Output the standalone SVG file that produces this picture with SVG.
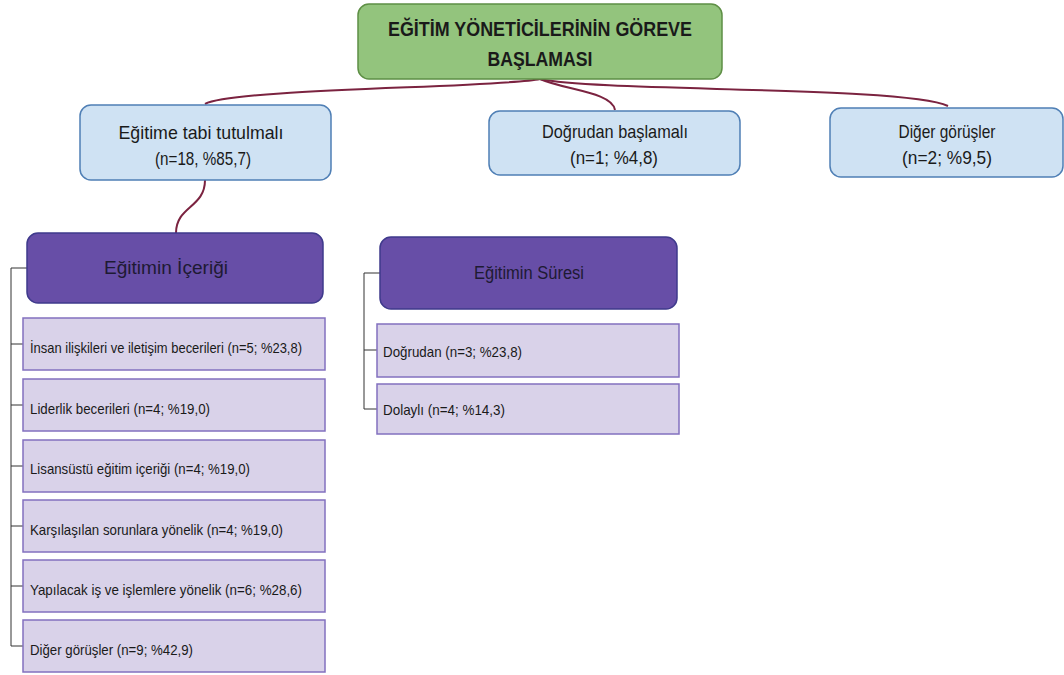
<svg xmlns="http://www.w3.org/2000/svg" width="1064" height="675" viewBox="0 0 1064 675">
<style>
text{font-family:"Liberation Sans",Arial,sans-serif;fill:#1a1a1a}
.root{fill:#93c47d;stroke:#5e8f45;stroke-width:1.5}
.blue{fill:#cfe2f3;stroke:#4f7fb5;stroke-width:1.5}
.hdr{fill:#674ea7;stroke:#3f3a8c;stroke-width:1.5}
.item{fill:#d9d2e9;stroke:#8270bf;stroke-width:1.5}
.rt{font-size:21px;font-weight:bold;text-anchor:middle}
.bt{font-size:18.5px;text-anchor:middle}
.ht{font-size:18px;text-anchor:middle;fill:#1e1a33}
.it{font-size:15px}
.con{fill:none;stroke:#7b2340;stroke-width:2}
.br{fill:none;stroke:#333;stroke-width:1}
</style>
<g id="connectors">
<path class="con" d="M540,79 C500,88 235,88 205,104"/>
<path class="con" d="M540,79 C565,90 612,92 615,110"/>
<path class="con" d="M540,79 C600,92 905,86 948,106"/>
<path class="con" d="M205,180 C205,208 176,206 176,233"/>
<path class="br" d="M27,268 H11 V646 H23 M11,344 H23 M11,405 H23 M11,466 H23 M11,526 H23 M11,586 H23"/>
<path class="br" d="M380,273 H364 V409 H377 M364,350 H377"/>
</g>
<g id="root">
<rect class="root" x="358" y="4" width="364" height="75" rx="11"/>
<text class="rt" x="540" y="36" textLength="304" lengthAdjust="spacingAndGlyphs">EĞİTİM YÖNETİCİLERİNİN GÖREVE</text>
<text class="rt" x="540" y="66" textLength="105" lengthAdjust="spacingAndGlyphs">BAŞLAMASI</text>
</g>
<g id="n1">
<rect class="blue" x="80" y="105" width="251" height="75" rx="11"/>
<text class="bt" x="201" y="139" textLength="165" lengthAdjust="spacingAndGlyphs">Eğitime tabi tutulmalı</text>
<text class="bt" x="203" y="165" textLength="96" lengthAdjust="spacingAndGlyphs">(n=18, %85,7)</text>
</g>
<g id="n2">
<rect class="blue" x="489" y="111" width="251" height="64" rx="11"/>
<text class="bt" x="615" y="138" textLength="146" lengthAdjust="spacingAndGlyphs">Doğrudan başlamalı</text>
<text class="bt" x="614" y="164" textLength="88" lengthAdjust="spacingAndGlyphs">(n=1; %4,8)</text>
</g>
<g id="n3">
<rect class="blue" x="830" y="108" width="233" height="69" rx="11"/>
<text class="bt" x="947" y="138" textLength="97" lengthAdjust="spacingAndGlyphs">Diğer görüşler</text>
<text class="bt" x="947" y="164" textLength="90" lengthAdjust="spacingAndGlyphs">(n=2; %9,5)</text>
</g>
<g id="icerik">
<rect class="hdr" x="27" y="233" width="296" height="70" rx="11"/>
<text class="ht" x="166" y="274" textLength="124" lengthAdjust="spacingAndGlyphs">Eğitimin İçeriği</text>
</g>
<g id="i1"><rect class="item" x="23" y="318" width="302" height="52"/><text class="it" x="30" y="353" textLength="272" lengthAdjust="spacingAndGlyphs">İnsan ilişkileri ve iletişim becerileri (n=5; %23,8)</text></g>
<g id="i2"><rect class="item" x="23" y="379" width="302" height="52"/><text class="it" x="30" y="414" textLength="180" lengthAdjust="spacingAndGlyphs">Liderlik becerileri (n=4; %19,0)</text></g>
<g id="i3"><rect class="item" x="23" y="440" width="302" height="52"/><text class="it" x="30" y="474" textLength="220" lengthAdjust="spacingAndGlyphs">Lisansüstü eğitim içeriği (n=4; %19,0)</text></g>
<g id="i4"><rect class="item" x="23" y="500" width="302" height="52"/><text class="it" x="30" y="535" textLength="253" lengthAdjust="spacingAndGlyphs">Karşılaşılan sorunlara yönelik (n=4; %19,0)</text></g>
<g id="i5"><rect class="item" x="23" y="560" width="302" height="52"/><text class="it" x="30" y="595" textLength="272" lengthAdjust="spacingAndGlyphs">Yapılacak iş ve işlemlere yönelik (n=6; %28,6)</text></g>
<g id="i6"><rect class="item" x="23" y="620" width="302" height="52"/><text class="it" x="30" y="655" textLength="163" lengthAdjust="spacingAndGlyphs">Diğer görüşler (n=9; %42,9)</text></g>
<g id="suresi">
<rect class="hdr" x="380" y="237" width="297" height="72" rx="11"/>
<text class="ht" x="529" y="279" textLength="110" lengthAdjust="spacingAndGlyphs">Eğitimin Süresi</text>
</g>
<g id="s1"><rect class="item" x="377" y="324" width="302" height="53"/><text class="it" x="383" y="357" textLength="139" lengthAdjust="spacingAndGlyphs">Doğrudan (n=3; %23,8)</text></g>
<g id="s2"><rect class="item" x="377" y="384" width="302" height="50"/><text class="it" x="383" y="415" textLength="122" lengthAdjust="spacingAndGlyphs">Dolaylı (n=4; %14,3)</text></g>
</svg>
